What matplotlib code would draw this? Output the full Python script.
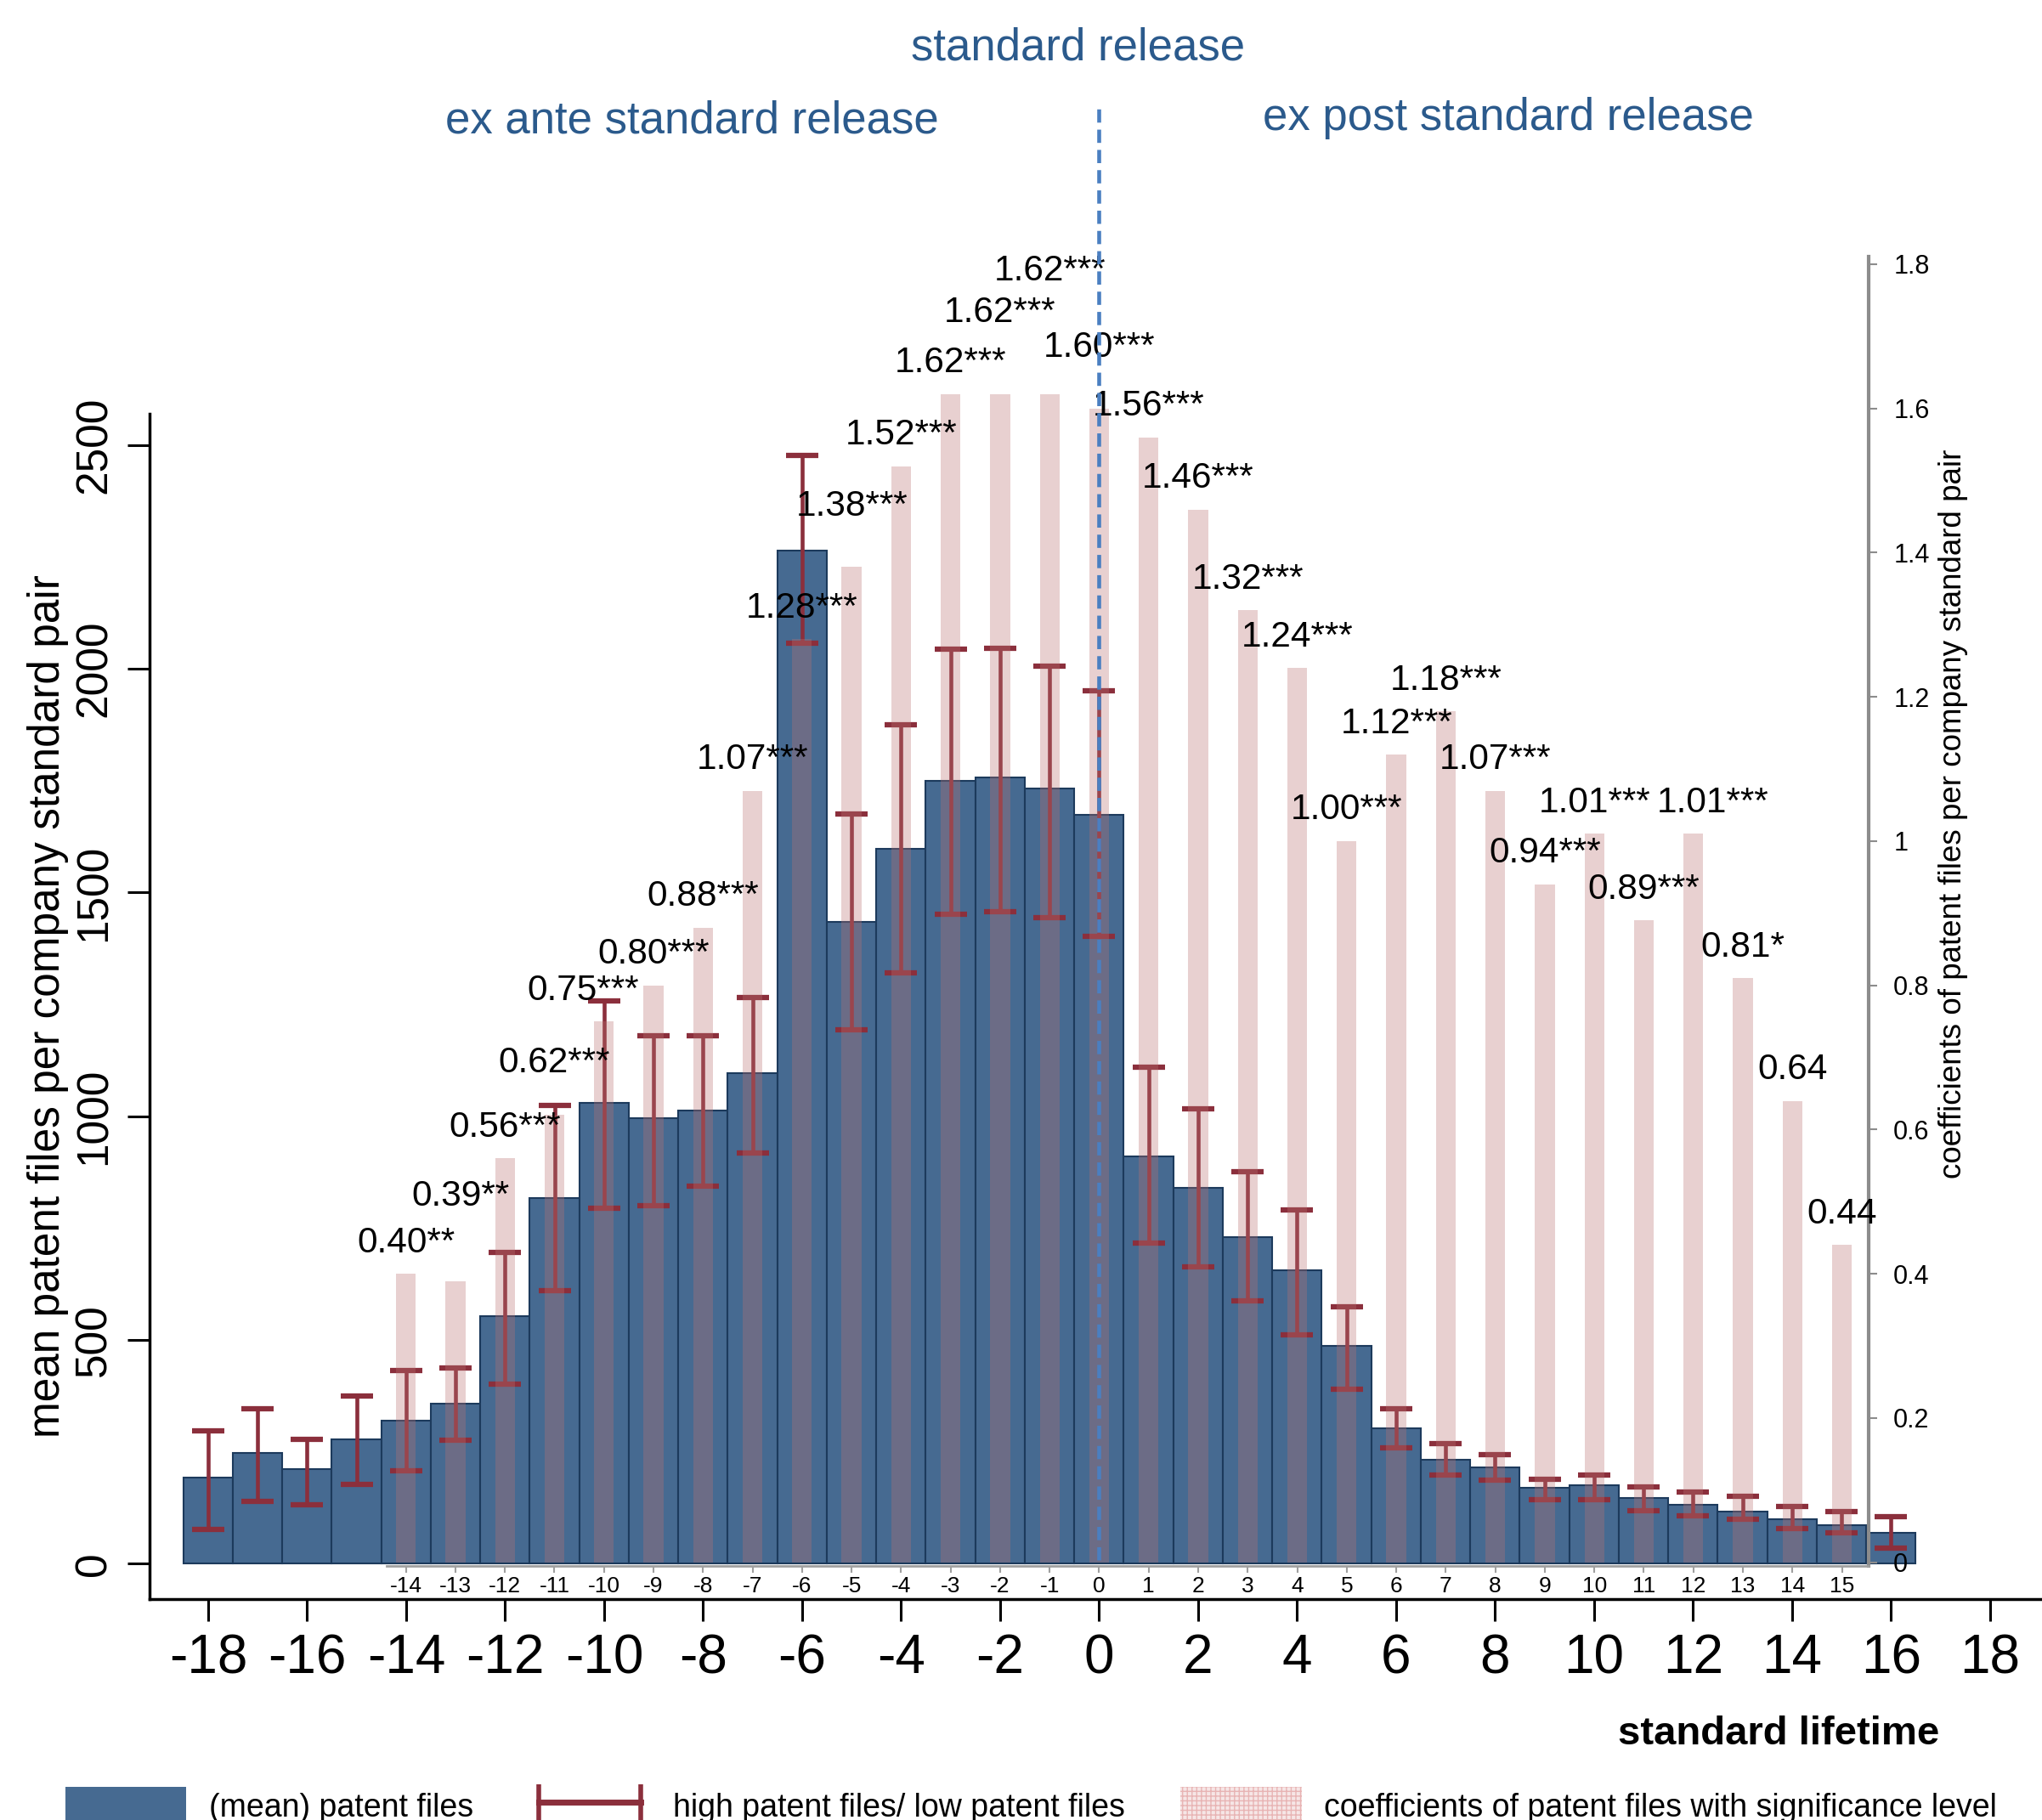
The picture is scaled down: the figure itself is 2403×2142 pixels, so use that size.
import matplotlib
matplotlib.use("Agg")
import matplotlib.pyplot as plt
from matplotlib.patches import Patch
from matplotlib.lines import Line2D

plt.rcParams['font.family'] = ['Liberation Sans', 'DejaVu Sans']
plt.rcParams['axes.unicode_minus'] = False

# -----------------------------
# Data
# -----------------------------
years = list(range(-18, 17))
mean_files = [192, 247, 212, 279, 320, 358, 553, 818, 1030, 995, 1013, 1097,
              2264, 1435, 1598, 1749, 1758, 1732, 1673, 911, 841, 730, 655,
              486, 303, 233, 215, 169, 175, 148, 131, 116, 99, 87, 70]
high_files = [297, 346, 279, 375, 431, 437, 696, 1024, 1257, 1179, 1179, 1266,
              2477, 1676, 1874, 2043, 2046, 2006, 1950, 1109, 1016, 876, 791,
              575, 346, 268, 244, 189, 198, 172, 160, 151, 128, 116, 105]
low_files = [76, 140, 131, 178, 207, 276, 402, 611, 795, 800, 844, 917,
             2058, 1193, 1321, 1452, 1458, 1444, 1403, 716, 664, 588, 512,
             390, 259, 198, 186, 143, 143, 119, 108, 99, 79, 70, 35]

coef_years = list(range(-14, 16))
coefs = [0.40, 0.39, 0.56, 0.62, 0.75, 0.80, 0.88, 1.07, 1.28, 1.38, 1.52,
         1.62, 1.62, 1.62, 1.60, 1.56, 1.46, 1.32, 1.24, 1.00, 1.12, 1.18,
         1.07, 0.94, 1.01, 0.89, 1.01, 0.81, 0.64, 0.44]
stars = ['**', '**'] + ['***'] * 25 + ['*', '', '']

# label nudges where the reference labels overlap
lift = {-13: 0.074, -11: 0.03, -5: 0.041, -2: 0.07, -1: 0.128, 0: 0.041}
shift = {-13: 0.1, -10: -0.42, 12: 0.4}

BLUE = '#466a91'
RED = '#8b2f3c'
TXT_BLUE = '#2b5a8c'

fig = plt.figure(figsize=(24.03, 21.42), dpi=100)

# -----------------------------
# Main chart: mean patent files
# -----------------------------
ax1 = fig.add_axes([0.0733, 0.1214, 0.9267, 0.6513])
ax1.bar(years, mean_files, width=1.0, color=BLUE, edgecolor='#1c3a5c', linewidth=1.5, zorder=2)
yerr = [[m - l for m, l in zip(mean_files, low_files)],
        [h - m for m, h in zip(mean_files, high_files)]]
ax1.errorbar(years, mean_files, yerr=yerr, fmt='none', ecolor=RED,
             elinewidth=3.3, capsize=14, capthick=4.5, zorder=3)
ax1.set_xlim(-19.18, 19.05)
ax1.set_ylim(-78.8, 2570)
ax1.set_xticks(range(-18, 19, 2))
ax1.set_yticks(range(0, 2501, 500))
for s in ['top', 'right']:
    ax1.spines[s].set_visible(False)
for s in ['left', 'bottom']:
    ax1.spines[s].set_linewidth(2.5)
ax1.tick_params(axis='x', length=19, width=2.2, pad=10, labelsize=46)
ax1.tick_params(axis='y', length=19, width=2.2, pad=10, labelsize=37)
for lab in ax1.get_yticklabels():
    lab.set_rotation(90)
    lab.set_va('center')
ax1.set_ylabel('mean patent files per company standard pair', fontsize=37)
ax1.yaxis.set_label_coords(-0.0538, 0.5)
ax1.yaxis.label.set_va('center')

# -----------------------------
# Overlay: coefficients
# -----------------------------
ax2 = fig.add_axes([0.1893, 0.1396, 0.7258, 0.7192], facecolor='none')
ax2.bar(coef_years, coefs, width=0.4, color='#ba7272', alpha=0.33, linewidth=0, zorder=2)
for yr, c, st in zip(coef_years, coefs, stars):
    ax2.text(yr + shift.get(yr, 0), c + 0.043 + lift.get(yr, 0), f'{c:.2f}{st}',
             ha='center', va='center', fontsize=30.5, zorder=5)
ax2.set_xlim(-14.39, 15.54)
ax2.set_ylim(-0.005, 1.81)
ax2.set_xticks(coef_years)
ax2.set_yticks([0, 0.2, 0.4, 0.6, 0.8, 1.0, 1.2, 1.4, 1.6, 1.8])
ax2.set_yticklabels(['0', '0.2', '0.4', '0.6', '0.8', '1', '1.2', '1.4', '1.6', '1.8'])
ax2.yaxis.tick_right()
for s in ['top', 'left']:
    ax2.spines[s].set_visible(False)
ax2.spines['right'].set_color('#8c8c8c')
ax2.spines['right'].set_linewidth(3)
ax2.spines['bottom'].set_color('#a0a0a0')
ax2.spines['bottom'].set_linewidth(2)
ax2.tick_params(axis='x', length=6, width=1.5, color='#a0a0a0', pad=3, labelsize=19)
ax2.tick_params(axis='y', length=7, width=1.5, color='#8c8c8c', pad=14, labelsize=22)
ax2.set_ylabel('coefficients of patent files per company standard pair', fontsize=26.5)
ax2.yaxis.set_label_position('right')
ax2.yaxis.set_label_coords(1.0573, 0.5746)
ax2.yaxis.label.set_va('center')

# release marker
ax2.axvline(0, ymin=0.0044, ymax=1.1135, color='#4a7fc1', linewidth=3.3,
            dashes=(3.4, 1.8), clip_on=False, zorder=6)

# -----------------------------
# Annotations
# -----------------------------
fig.text(0.528, 0.9734, 'standard release', color=TXT_BLUE, fontsize=38, ha='center', va='center')
fig.text(0.3387, 0.9335, 'ex ante standard release', color=TXT_BLUE, fontsize=38, ha='center', va='center')
fig.text(0.7385, 0.9349, 'ex post standard release', color=TXT_BLUE, fontsize=38, ha='center', va='center')
fig.text(0.871, 0.047, 'standard lifetime', fontsize=34, fontweight='bold', ha='center', va='center')

handles = [
    Patch(facecolor=BLUE, edgecolor='none'),
    Line2D([0], [0], color=RED, linewidth=5, marker='|', markersize=30, markeredgewidth=4),
    Patch(facecolor='#f6e6e6', edgecolor='#e8b4b4', hatch='+++', linewidth=0),
]
labels = ['(mean) patent files', 'high patent files/ low patent files',
          'coefficients of patent files with significance level']
fig.legend(handles, labels, loc='upper left', bbox_to_anchor=(0.032, 0.018),
           bbox_transform=fig.transFigure, ncol=3, frameon=False, numpoints=2,
           borderpad=0, borderaxespad=0, handlelength=3.8, handleheight=1.4,
           handletextpad=0.7, columnspacing=1.76, fontsize=27)

fig.savefig('out.png', dpi=100)
